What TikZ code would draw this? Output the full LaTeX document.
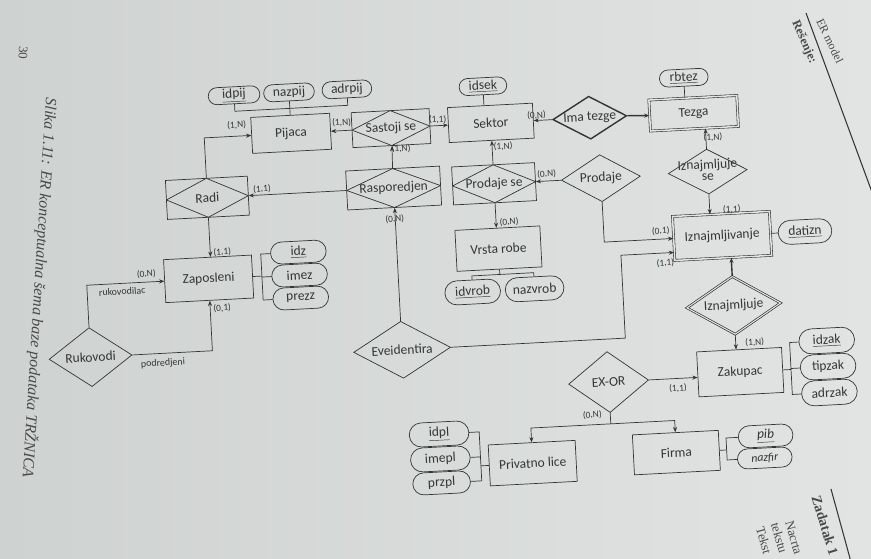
\documentclass[tikz,border=0pt]{standalone}
\usepackage{fontspec}
\setmainfont{Carlito}
\newfontfamily\pagefont{Liberation Serif}
\usetikzlibrary{shapes.geometric,shapes.misc,arrows.meta,positioning}

\definecolor{paper}{RGB}{225,228,226}
\definecolor{paperdark}{RGB}{206,210,209}
\definecolor{ink}{RGB}{52,54,54}

\newcommand{\erfont}{\fontsize{11.5}{13}\selectfont}
\newcommand{\rtext}[1]{\makebox[0pt]{#1}}

\tikzset{
  sz/.style 2 args={minimum width=#1*0.3mm, minimum height=#2*0.3mm},
  entity/.style={draw=ink, line width=0.6pt, rectangle, inner sep=1pt, text=ink, font=\erfont},
  weakentity/.style={entity, line width=0.5pt, double=paper, double distance=1.3pt},
  relation/.style={draw=ink, line width=0.6pt, diamond, aspect=1.7, inner sep=0pt, text=ink, font=\erfont},
  assocrel/.style={entity, path picture={\draw[ink, line width=0.6pt] (path picture bounding box.west) -- (path picture bounding box.north) -- (path picture bounding box.east) -- (path picture bounding box.south) -- cycle;}},
  attribute/.style={draw=ink, line width=0.6pt, rounded rectangle, inner sep=1pt, text=ink, font=\erfont},
  card/.style={inner sep=0pt, text=ink, font=\fontsize{8}{9}\selectfont},
  role/.style={inner sep=0pt, text=ink, font=\fontsize{8.5}{9}\selectfont},
  conn/.style={draw=ink, line width=0.6pt},
  arr/.style={conn, -{Stealth[length=4.5pt, width=3.5pt]}},
  pagetext/.style={inner sep=0pt, text=ink!90, font=\pagefont\fontsize{11}{13}\selectfont},
}

\begin{document}
\begin{tikzpicture}[x=0.3mm, y=-0.3mm]
\useasboundingbox (0,0) rectangle (871,558);
\shade[left color=paperdark, right color=paper] (0,0) rectangle (871,558);

\begin{scope}[transform canvas={rotate around={3:(435,280)}}]
% gornji red
\node[entity, sz={79}{36}] (pijaca) at (299,126) {Pijaca};
\node[assocrel, sz={78}{35}] (sastoji) at (399,126) {Sastoji se};
\node[entity, sz={85}{35}] (sektor) at (499,126) {Sektor};
\node[relation, sz={74}{43}, line width=1.2pt] (imatezge) at (598,126) {\rtext{Ima tezge}};
\node[weakentity, sz={88}{31}] (tezga) at (702,127) {Tezga};
\node[attribute, sz={54}{17}] (idpij) at (244,85) {\underline{idpij}};
\node[attribute, sz={53}{17}] (nazpij) at (299,85) {nazpij};
\node[attribute, sz={52}{17}] (adrpij) at (357,85) {adrpij};
\node[attribute, sz={50}{17}] (idsek) at (493,89) {\underline{idsek}};
\node[attribute, sz={51}{17}] (rbtez) at (694,91) {\underline{rbtez}};

% drugi red
\node[assocrel, sz={82}{39}] (radi) at (212,186) {Radi};
\node[assocrel, sz={94}{39}] (rasp) at (398.5,186) {Rasporedjen};
\node[assocrel, sz={83}{38}] (prodse) at (499,187) {Prodaje se};
\node[relation, sz={79}{47}] (prodaje) at (606,187) {\rtext{Prodaje}};
\node[relation, sz={79}{45}] (iznse) at (713,186) {\rtext{\begin{tabular}{@{}c@{}}Iznajmljuje\\[-3pt]se\end{tabular}}};

% ostalo
\node[entity, sz={88}{43}] (zaposleni) at (209,267) {Zaposleni};
\node[attribute, sz={58}{22}] (idz) at (300,245) {\underline{idz}};
\node[attribute, sz={58}{22}] (imez) at (300,268) {imez};
\node[attribute, sz={58}{22}] (prezz) at (300,291) {prezz};
\node[entity, sz={85}{41}] (vrsta) at (500,252) {Vrsta robe};
\node[attribute, sz={58}{24}] (idvrob) at (472,294) {\underline{idvrob}};
\node[attribute, sz={61}{24}] (nazvrob) at (534,294) {nazvrob};
\node[weakentity, sz={97}{44}] (iznajm) at (724,251) {Iznajmljivanje};
\node[attribute, sz={56}{24}] (datizn) at (807,251) {\underline{datizn}};
\node[relation, sz={94}{58}, double=paper, double distance=0.9pt] (iznajmljuje) at (732,321) {\rtext{Iznajmljuje}};
\node[relation, sz={97}{57}] (eveid) at (398.5,348) {\rtext{Eveidentira}};
\node[relation, sz={83}{59}] (rukovodi) at (87,339) {\rtext{Rukovodi}};
\node[entity, sz={85}{45}] (zakupac) at (735,388) {Zakupac};
\node[attribute, sz={58}{25}] (idzak) at (823,361) {\underline{idzak}};
\node[attribute, sz={58}{25}] (tipzak) at (823,387) {tipzak};
\node[attribute, sz={58}{25}] (adrzak) at (823,413) {adrzak};
\node[relation, sz={80}{61}] (exor) at (603,391) {\rtext{EX-OR}};
\node[entity, sz={87}{41}] (privatno) at (523,468) {Privatno lice};
\node[entity, sz={86}{40}] (firma) at (667,465) {Firma};
\node[attribute, sz={62}{24}] (idpl) at (431,434) {\underline{idpl}};
\node[attribute, sz={62}{24}] (imepl) at (431,459) {imepl};
\node[attribute, sz={60}{22}] (przpl) at (431,483) {przpl};
\node[attribute, sz={57}{22}, font=\erfont\itshape] (pib) at (757,453) {\underline{pib}};
\node[attribute, sz={57}{20}, font=\fontsize{10}{12}\selectfont\itshape] (nazfir) at (755,475) {nazfir};

% veze
\draw[arr] (radi.north) |- (pijaca.west);
\draw[arr] (sastoji.west) -- (pijaca.east);
\draw[arr] (sastoji.east) -- (sektor.west);
\draw[arr] (rasp.north) -- (sastoji.south);
\draw[arr] (rasp.west) -- (radi.east);
\draw[arr] (eveid.north) -- (rasp.south);
\draw[arr] (imatezge.west) -- (sektor.east);
\draw[arr, line width=1.2pt] (imatezge.east) -- (tezga.west);
\draw[arr] (prodse.north) -- (sektor.south);
\draw[arr] (prodse.south) -- (prodse.south |- vrsta.north);
\draw[arr] (prodaje.west) -- (prodse.east);
\draw[arr] (prodaje.south) |- (iznajm.west);
\coordinate (evup) at (622,265);
\draw[arr] (eveid.east) -| (evup) -- (evup -| iznajm.west);
\draw[arr] (iznse.north) -- (iznse.north |- tezga.south);
\draw[arr] (iznse.south) -- (iznse.south |- iznajm.north);
\draw[arr, line width=1.2pt] (iznajmljuje.north) -- (iznajmljuje.north |- iznajm.south);
\draw[arr] (iznajmljuje.south) -- (iznajmljuje.south |- zakupac.north);
\draw[arr] (exor.east) -- (exor.east -| zakupac.west);
\draw[conn] (exor.south) -- ++(0,11) coordinate (exs);
\draw[arr] (exs) -| (privatno.north);
\draw[arr] (exs) -| (firma.north);
\draw[arr] (radi.south) -- (radi.south |- zaposleni.north);
\draw[arr] (rukovodi.north) |- (zaposleni.west);
\draw[arr] (rukovodi.east) -| (zaposleni.south);

% atributi
\draw[conn] (pijaca.north) -- (nazpij.south);
\coordinate (pbar) at (299,101);
\draw[conn] (idpij.south) |- (pbar) -| (adrpij.south);
\draw[conn] (sektor.north -| idsek.south) -- (idsek.south);
\draw[conn] (tezga.north -| rbtez.south) -- (rbtez.south);
\draw[conn] (zaposleni.east) -- ++(9,0) coordinate (zbr);
\draw[conn] (idz.west) -| (zbr) |- (prezz.west);
\draw[conn] (imez.west) -- (imez.west -| zbr);
\draw[conn] (vrsta.south) -- ++(0,5) coordinate (vbr);
\draw[conn] (idvrob.north) |- (vbr) -| (nazvrob.north);
\draw[conn] (iznajm.east) -- (datizn.west);
\draw[conn] (zakupac.east) -- ++(8,0) coordinate (zkb);
\draw[conn] (idzak.west) -| (zkb) |- (adrzak.west);
\draw[conn] (tipzak.west) -- (tipzak.west -| zkb);
\draw[conn] (privatno.west) -- ++(-8,0) coordinate (plb);
\draw[conn] (idpl.east) -| (plb) |- (przpl.east);
\draw[conn] (imepl.east) -- (imepl.east -| plb);
\draw[conn] (firma.east) -- ++(7,0) coordinate (fb);
\draw[conn] (pib.west) -| (fb) |- (nazfir.west);

% kardinalnosti
\node[card] (c1) at (245,115) {(1,N)};
\node[card] (c2) at (350,118) {(1,N)};
\node[card] (c3) at (446,120) {(1,1)};
\node[card] (c4) at (408,147) {(1,N)};
\node[card] (c5) at (267,180) {(1,1)};
\node[card] (c6) at (398,217) {(0,N)};
\node[card] (c7) at (510,150) {(1,N)};
\node[card] (c8) at (512,226) {(0,N)};
\node[card] (c9) at (545,121) {(0,N)};
\node[card] (c10) at (720,152) {(1,N)};
\node[card] (c11) at (552,180) {(0,N)};
\node[card] (c12) at (735,225) {(1,1)};
\node[card] (c13) at (663,243) {(0,1)};
\node[card] (c14) at (666,275) {(1,1)};
\node[card] (c15) at (751,359) {(1,N)};
\node[card] (c16) at (672,401) {(1,1)};
\node[card] (c17) at (585,423) {(0,N)};
\node[card] (c18) at (224,241) {(1,1)};
\node[card] (c19) at (147,259) {(0,N)};
\node[card] (c20) at (221,297) {(0,1)};
\node[role] (r1) at (122,275) {rukovodilac};
\node[role] (r2) at (159,349) {podredjeni};
\end{scope}

% tekst stranice
\node[pagetext, rotate=-92] (pagenum) at (23,53) {30};
\node[pagetext, rotate=-93.5, font=\pagefont\itshape\fontsize{13.5}{16}\selectfont] (caption) at (39.5,288) {Slika 1.11: ER konceptualna šema baze podataka TRŽNICA};
\node[pagetext, rotate=-64, font=\pagefont\fontsize{10}{12}\selectfont] (hdr) at (830,41) {ER model};
\node[pagetext, rotate=-66, font=\pagefont\bfseries\fontsize{10.5}{12}\selectfont] (resenje) at (804,42) {Rešenje:};
\draw[ink, line width=0.9pt] (806,13) -- (876,203);
\node[pagetext, rotate=-73, anchor=west, font=\pagefont\bfseries\fontsize{12}{14}\selectfont] (zadatak) at (816,496) {Zadatak 1};
\draw[ink, line width=0.9pt] (831,489) -- (851,562);
\node[pagetext, rotate=-74, anchor=west] (t1) at (789,521) {Nacrta};
\node[pagetext, rotate=-74, anchor=west] (t2) at (775,523) {tekstu};
\node[pagetext, rotate=-74, anchor=west] (t3) at (760,527) {Tekst};
\end{tikzpicture}
\end{document}
